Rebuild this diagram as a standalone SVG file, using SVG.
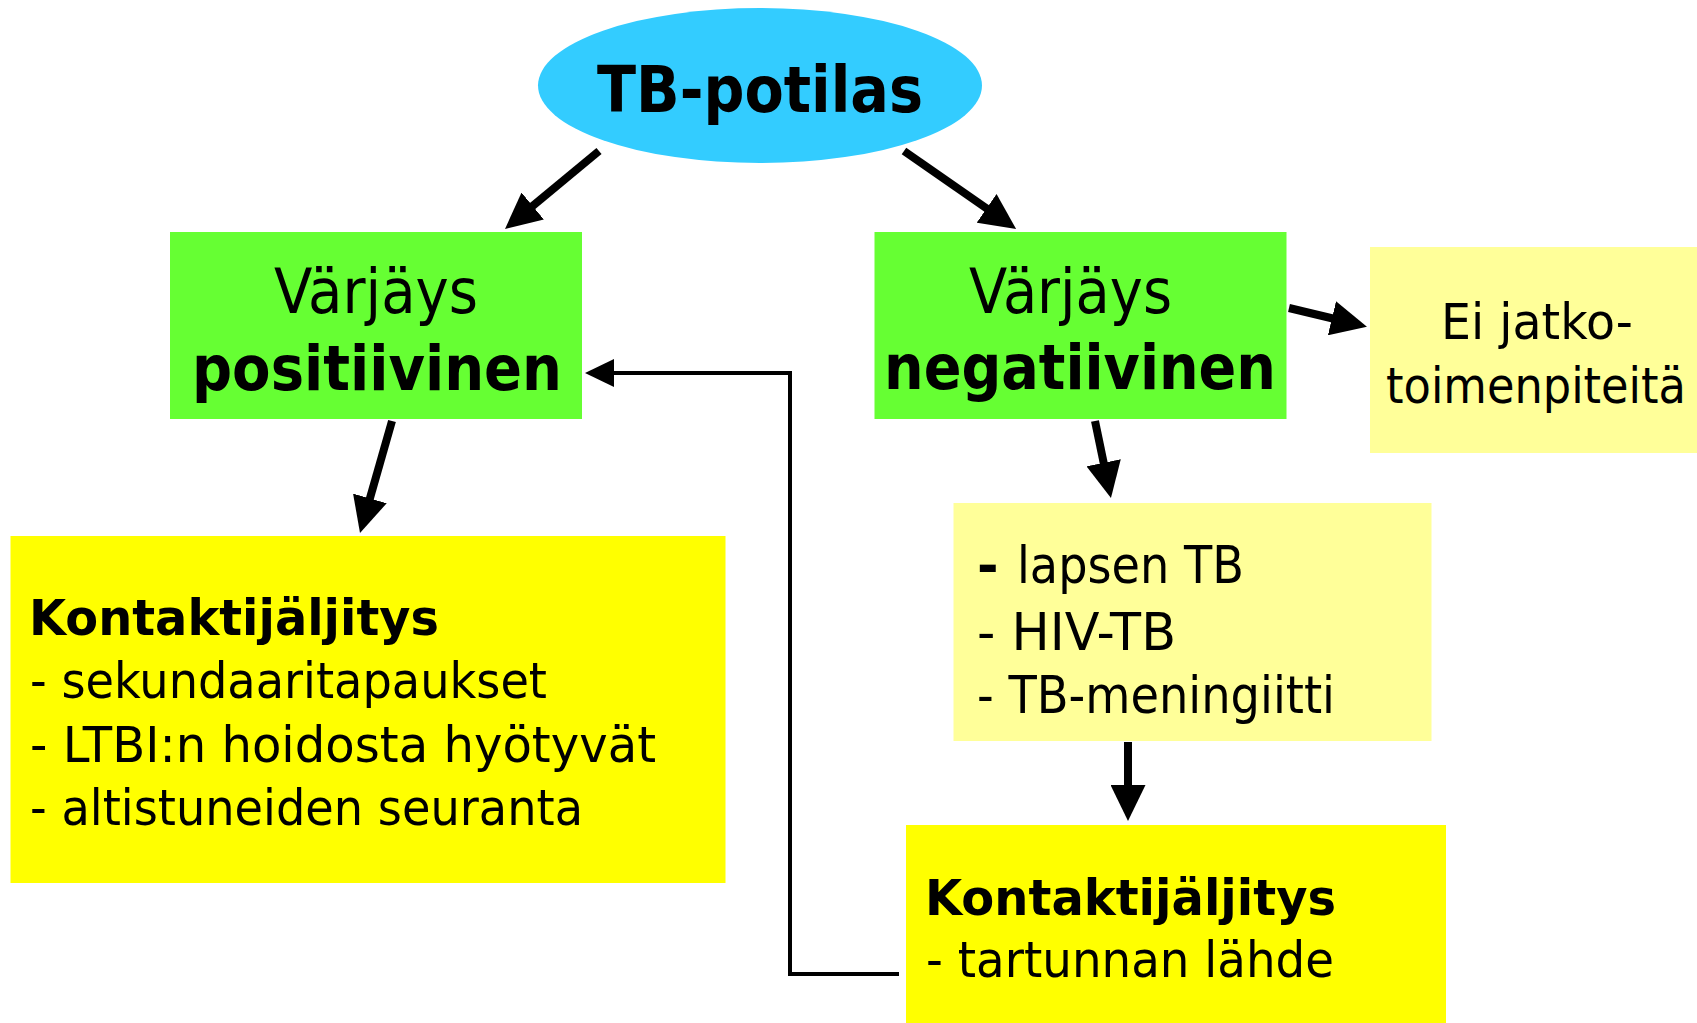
<svg xmlns="http://www.w3.org/2000/svg" width="1697" height="1023" viewBox="0 0 1697 1023">
<style>
text{font-family:"DejaVu Sans","Liberation Sans",sans-serif;fill:#000}
.b{font-weight:bold}
.conn{fill:none;stroke:#000;stroke-width:8;stroke-linecap:butt}
.thin{fill:none;stroke:#000;stroke-width:4}
</style>
<defs>
<marker id="ah" markerUnits="userSpaceOnUse" markerWidth="36" markerHeight="35" refX="16" refY="17.5" orient="auto" viewBox="0 0 36 35">
<path d="M0,0 L36,17.5 L0,35 z" fill="#000"/>
</marker>
<marker id="ahs" markerUnits="userSpaceOnUse" markerWidth="29" markerHeight="28" refX="24" refY="14" orient="auto" viewBox="0 0 29 28">
<path d="M0,0 L29,14 L0,28 z" fill="#000"/>
</marker>
</defs>

<g id="connectors">
<line class="conn" x1="599" y1="151" x2="520.4" y2="216.2" marker-end="url(#ah)"/>
<line class="conn" x1="904" y1="151" x2="999.7" y2="217.5" marker-end="url(#ah)"/>
<line class="conn" x1="392" y1="421" x2="365.5" y2="513.8" marker-end="url(#ah)"/>
<line class="conn" x1="1289" y1="308" x2="1347.5" y2="322" marker-end="url(#ah)"/>
<line class="conn" x1="1095" y1="421" x2="1106.9" y2="478.4" marker-end="url(#ah)"/>
<line class="conn" x1="1128" y1="742" x2="1128" y2="801" marker-end="url(#ah)"/>
<polyline class="thin" points="899,974 790,974 790,373 590,373" marker-end="url(#ahs)"/>
</g>

<g id="tb-potilas">
<ellipse cx="760" cy="85.5" rx="222" ry="77.5" fill="#33CCFF"/>
<text class="b" x="597" y="112" font-size="64" textLength="326" lengthAdjust="spacingAndGlyphs">TB-potilas</text>
</g>

<g id="positiivinen">
<rect x="170" y="232" width="412" height="187" fill="#66FF33"/>
<text x="274" y="313" font-size="62" textLength="204" lengthAdjust="spacingAndGlyphs">Värjäys</text>
<text class="b" x="192" y="390" font-size="62" textLength="370" lengthAdjust="spacingAndGlyphs">positiivinen</text>
</g>

<g id="negatiivinen">
<rect x="874.5" y="232" width="412" height="187" fill="#66FF33"/>
<text x="969" y="313" font-size="62" textLength="203" lengthAdjust="spacingAndGlyphs">Värjäys</text>
<text class="b" x="884" y="389" font-size="62" textLength="392" lengthAdjust="spacingAndGlyphs">negatiivinen</text>
</g>

<g id="ei-jatko">
<rect x="1370" y="247" width="327" height="206" fill="#FFFF99"/>
<text x="1441" y="339" font-size="50" textLength="192" lengthAdjust="spacingAndGlyphs">Ei jatko-</text>
<text x="1386" y="403" font-size="50" textLength="300" lengthAdjust="spacingAndGlyphs">toimenpiteitä</text>
</g>

<g id="erityistapaukset">
<rect x="953.5" y="503" width="478" height="238" fill="#FFFF99"/>
<text class="b" x="977" y="583" font-size="52">-</text>
<text x="1017" y="583" font-size="52" textLength="227" lengthAdjust="spacingAndGlyphs">lapsen TB</text>
<text x="977" y="650" font-size="52" textLength="199" lengthAdjust="spacingAndGlyphs">- HIV-TB</text>
<text x="977" y="712.5" font-size="52" textLength="358" lengthAdjust="spacingAndGlyphs">- TB-meningiitti</text>
</g>

<g id="kontakti-positiivinen">
<rect x="10.5" y="536" width="715" height="347" fill="#FFFF00"/>
<text class="b" x="29" y="634.5" font-size="50" textLength="410" lengthAdjust="spacingAndGlyphs">Kontaktijäljitys</text>
<text x="30" y="698" font-size="50" textLength="517" lengthAdjust="spacingAndGlyphs">- sekundaaritapaukset</text>
<text x="30" y="762" font-size="50" textLength="626" lengthAdjust="spacingAndGlyphs">- LTBI:n hoidosta hyötyvät</text>
<text x="30" y="825" font-size="50" textLength="553" lengthAdjust="spacingAndGlyphs">- altistuneiden seuranta</text>
</g>

<g id="kontakti-negatiivinen">
<rect x="906" y="825" width="540" height="198" fill="#FFFF00"/>
<text class="b" x="925" y="914.5" font-size="50" textLength="411" lengthAdjust="spacingAndGlyphs">Kontaktijäljitys</text>
<text x="926" y="977" font-size="50" textLength="408" lengthAdjust="spacingAndGlyphs">- tartunnan lähde</text>
</g>
</svg>
